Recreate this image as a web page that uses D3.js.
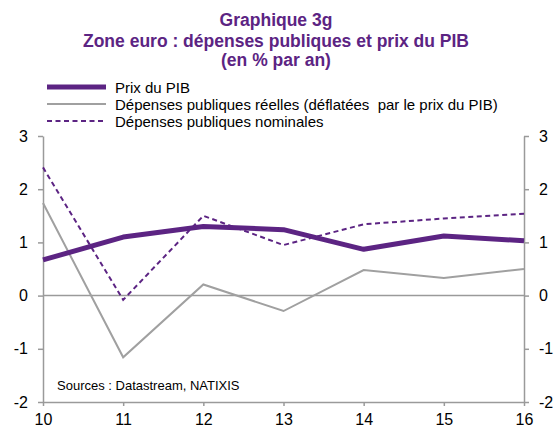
<!DOCTYPE html>
<html><head><meta charset="utf-8">
<script src="https://cdn.jsdelivr.net/npm/d3@7"></script>
<style>body{margin:0;background:#fff}svg{display:block}</style>
</head><body>
<script>
const years = [10, 11, 12, 13, 14, 15, 16];
const prixPIB = [0.67, 1.10, 1.30, 1.24, 0.87, 1.12, 1.03];
const depReelles = [1.74, -1.16, 0.21, -0.29, 0.48, 0.33, 0.50];
const depNominales = [2.41, -0.08, 1.50, 0.95, 1.34, 1.45, 1.54];
const yTicks = [-2, -1, 0, 1, 2, 3];
const titleLines = ["Graphique 3g", "Zone euro : dépenses publiques et prix du PIB", "(en % par an)"];
const legendLabels = ["Prix du PIB", "Dépenses publiques réelles (déflatées  par le prix du PIB)", "Dépenses publiques nominales"];
const sourceText = "Sources : Datastream, NATIXIS";

const W = 555, H = 432;
const purple = "#5C2483", gray = "#A0A0A0", axisGray = "#9A9A9A";
const font = "Liberation Sans, Arial, sans-serif";

const svg = d3.select("body").append("svg").attr("width", W).attr("height", H);
const x = d3.scaleLinear().domain([10, 16]).range([43, 524]);
const y = d3.scaleLinear().domain([-2, 3]).range([402, 136]);

// title
svg.append("g").selectAll("text").data(titleLines).join("text")
  .attr("x", 276).attr("y", (d, i) => [26, 46.5, 66][i])
  .attr("text-anchor", "middle").attr("font-family", font).attr("font-weight", "bold")
  .attr("font-size", 17.5).attr("fill", purple).text(d => d);

// legend
const legStyles = [
  {stroke: purple, w: 5, dash: null},
  {stroke: gray, w: 2, dash: null},
  {stroke: purple, w: 2, dash: "5,3.5"}
];
const legY = [87, 104, 121];
legendLabels.forEach((lab, i) => {
  const s = legStyles[i];
  svg.append("line").attr("x1", 47).attr("x2", 106).attr("y1", legY[i]).attr("y2", legY[i])
    .attr("stroke", s.stroke).attr("stroke-width", s.w).attr("stroke-dasharray", s.dash);
  svg.append("text").attr("x", 115).attr("y", legY[i] + 5.5).attr("font-family", font)
    .attr("font-size", 15).attr("fill", "#000").style("white-space", "pre").text(lab);
});

// axes
const fmt = d => String(d);
const axStyle = g => {
  g.select(".domain").attr("stroke", axisGray).attr("stroke-width", 1.5);
  g.selectAll(".tick line").attr("stroke", axisGray).attr("stroke-width", 1.5);
  g.selectAll(".tick text").attr("font-family", font).attr("font-size", 16).attr("fill", "#000");
};
svg.append("g").attr("transform", "translate(43,0)")
  .call(d3.axisLeft(y).tickValues(yTicks).tickSize(5).tickSizeOuter(0).tickPadding(10).tickFormat(fmt))
  .call(axStyle);
svg.append("g").attr("transform", "translate(524,0)")
  .call(d3.axisRight(y).tickValues(yTicks).tickSize(5).tickSizeOuter(0).tickPadding(10).tickFormat(fmt))
  .call(axStyle);
svg.append("g").attr("transform", "translate(0,402)")
  .call(d3.axisBottom(x).tickValues(years).tickSize(4).tickSizeOuter(0).tickPadding(8).tickFormat(fmt))
  .call(axStyle);

// zero line
svg.append("line").attr("x1", x(10)).attr("x2", x(16)).attr("y1", y(0)).attr("y2", y(0))
  .attr("stroke", axisGray).attr("stroke-width", 1.5);

// series
const line = d3.line().x((d, i) => x(years[i])).y(d => y(d));
svg.append("path").datum(depReelles).attr("d", line).attr("fill", "none")
  .attr("stroke", gray).attr("stroke-width", 2);
svg.append("path").datum(depNominales).attr("d", line).attr("fill", "none")
  .attr("stroke", purple).attr("stroke-width", 2).attr("stroke-dasharray", "5,3.5");
svg.append("path").datum(prixPIB).attr("d", line).attr("fill", "none")
  .attr("stroke", purple).attr("stroke-width", 5).attr("stroke-linejoin", "round");

// source
svg.append("text").attr("x", 57).attr("y", 390).attr("font-family", font)
  .attr("font-size", 13).attr("fill", "#000").text(sourceText);
</script>
</body></html>
